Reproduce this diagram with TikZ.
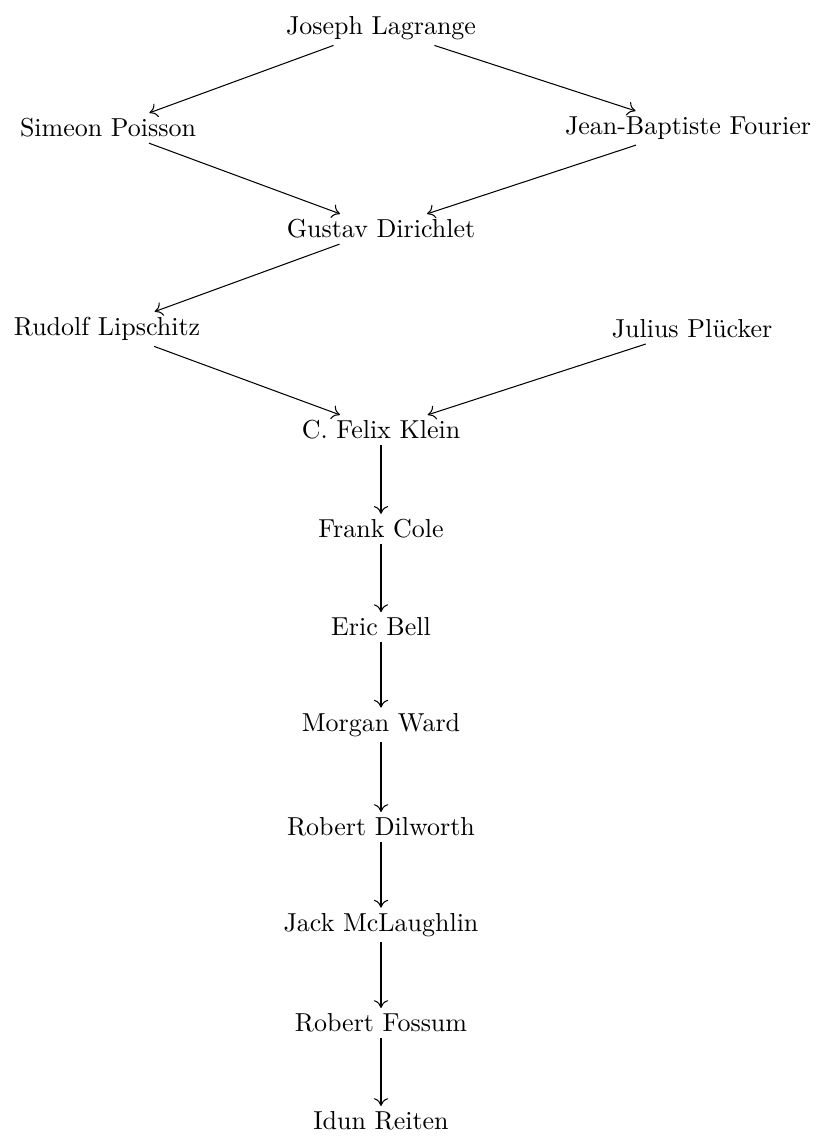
\documentclass[tikz,border=0pt]{standalone}
\usepackage{tikz}
\usetikzlibrary{positioning, arrows.meta}
\tikzset{->, >={To[length=3pt, width=5.5pt]}, every node/.style={inner sep=2pt}, direct/.style={line width=1.1pt, -{To[length=3pt, width=5.5pt, line width=0.4pt]}},}

\begin{document}
\begin{tikzpicture}[x=0.385pt, y=-0.385pt]
        \useasboundingbox (0,0) rectangle (818,1141);
        \node at (381,28) (lagrange) {Joseph Lagrange};
        \node at (108,128) (poisson) {Simeon Poisson};
        \node at (688,128) (fourier) {Jean-Baptiste Fourier};
        \node at (381,229) (dirichlet) {Gustav Dirichlet};
        \node at (107,329) (lipschitz) {Rudolf Lipschitz};
        \node at (692,329) (pluecker) {Julius Pl\"ucker};
        \node at (381,430) (klein) {C. Felix Klein};
        \node at (381,529) (cole) {Frank Cole};
        \node at (381,627) (bell) {Eric Bell};
        \node at (381,725) (ward) {Morgan Ward};
        \node at (381,827) (dilworth) {Robert Dilworth};
        \node at (381,925) (mclaughlin) {Jack McLaughlin};
        \node at (381,1023) (fossum) {Robert Fossum};
        \node at (381,1121) (reiten) {Idun Reiten};

        \draw (lagrange) edge (poisson)
                  (lagrange) edge (fourier)
                  (poisson) edge (dirichlet)
                  (fourier) edge (dirichlet)
                  (dirichlet) edge (lipschitz)
                  (lipschitz) edge (klein)
                  (pluecker) edge (klein)
                  (klein) edge[direct] (cole)
                  (cole) edge[direct] (bell)
                  (bell) edge[direct] (ward)
                  (ward) edge[direct] (dilworth)
                  (dilworth) edge[direct] (mclaughlin)
                  (mclaughlin) edge[direct] (fossum)
                  (fossum) edge[direct] (reiten);
    \end{tikzpicture}
\end{document}
